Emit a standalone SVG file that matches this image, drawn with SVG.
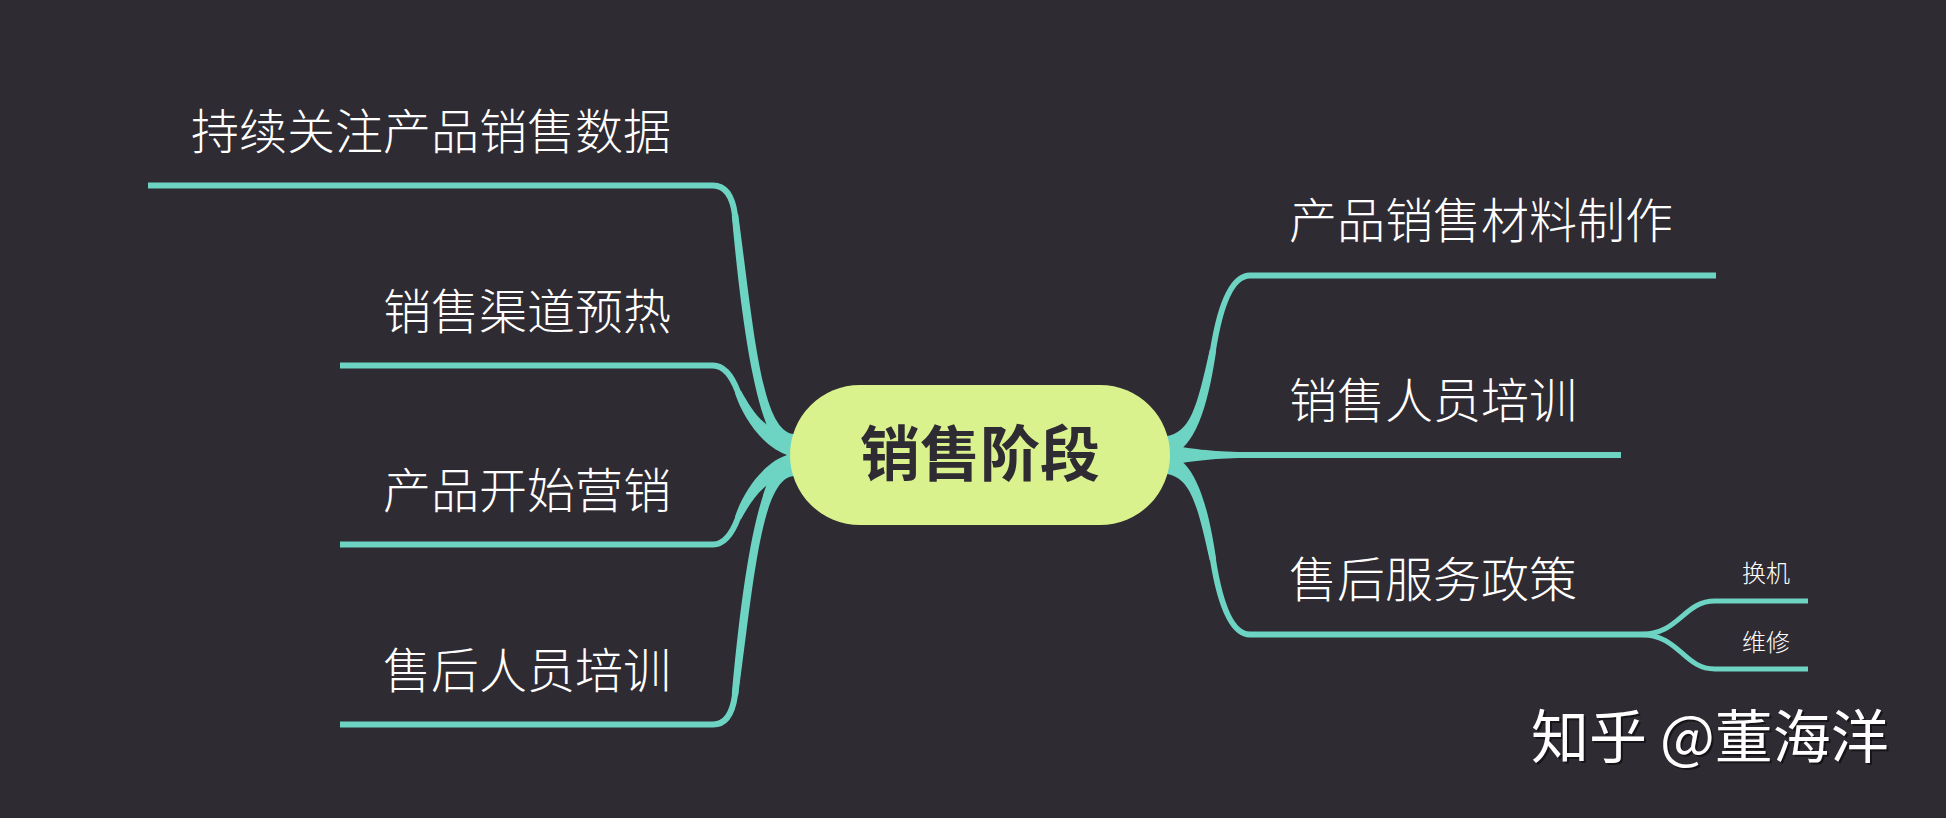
<svg xmlns="http://www.w3.org/2000/svg" width="1946" height="818" viewBox="0 0 1946 818">
<style>
.bg{fill:#2f2b33}
.ln{fill:none;stroke:#6dd3c2;stroke-width:6;stroke-linecap:butt;stroke-linejoin:round}
.sub{fill:none;stroke:#6dd3c2;stroke-width:5;stroke-linecap:butt}
.tp{fill:#6dd3c2;stroke:none}
.t{font-family:"Noto Sans CJK SC","Noto Sans",sans-serif;font-size:48px;fill:#ffffff;font-weight:300}
.ts{font-family:"Noto Sans CJK SC","Noto Sans",sans-serif;font-size:24px;fill:#ffffff;font-weight:300}
.tc{font-family:"Noto Sans CJK SC","Noto Sans",sans-serif;font-size:60px;fill:#2f2b33;font-weight:700}
.wm{font-family:"Noto Sans CJK SC","Noto Sans",sans-serif;font-size:58px;font-weight:400}
</style>
<rect class="bg" x="0" y="0" width="1946" height="818"/>
<g id="connectors">
  <!-- left -->
  <path class="ln" d="M792 445 C760 440 748 330 735 215 Q731 185.5 713 185.5 L148 185.5"/>
  <path class="tp" d="M793.7 434.1 C761.3 431.7 753.8 329.4 738.2 214.6 L731.8 215.4 C742.2 330.6 758.7 448.3 790.3 455.9 Z"/>
  <path class="ln" d="M792 445 C765 441 748 415 738 392 Q728 365.5 713 365.5 L340 365.5"/>
  <path class="tp" d="M793.6 434.1 C766.2 432.7 753.3 412.7 741 390.7 L735 393.3 C742.7 417.3 763.8 449.3 790.4 455.9 Z"/>
  <path class="ln" d="M792 465 C765 469 748 495 738 518 Q728 544.5 713 544.5 L340 544.5"/>
  <path class="tp" d="M793.6 475.9 C766.2 477.3 753.3 497.3 741 519.3 L735 516.7 C742.7 492.7 763.8 460.7 790.4 454.1 Z"/>
  <path class="ln" d="M792 465 C760 470 748 580 735 695 Q731 724.5 713 724.5 L340 724.5"/>
  <path class="tp" d="M793.7 475.9 C761.3 478.3 753.8 580.6 738.2 695.4 L731.8 694.6 C742.2 579.4 758.7 461.7 790.3 454.1 Z"/>
  <!-- right -->
  <path class="ln" d="M1168 446 C1192 440 1202 410 1213 350 Q1225 275.5 1250 275.5 L1716 275.5"/>
  <path class="tp" d="M1165.6 436.3 C1190.1 432.5 1196.6 409 1209.8 349.4 L1216.2 350.6 C1207.4 411 1193.9 447.5 1170.4 455.7 Z"/>
  <path class="tp" d="M1166 445 C1190 448 1210 452 1245 452 L1621 452 L1621 458 L1245 458 C1210 458 1190 462 1166 465 Z"/>
  <path class="ln" d="M1168 464 C1192 470 1202 500 1213 560 Q1225 634.5 1250 634.5 L1650 634.5"/>
  <path class="tp" d="M1165.6 473.7 C1190.1 477.5 1196.6 501 1209.8 560.6 L1216.2 559.4 C1207.4 499 1193.9 462.5 1170.4 454.3 Z"/>
  <!-- sub -->
  <path class="sub" d="M1640 634.5 C1680 634.5 1683 601 1715 601 L1808 601"/>
  <path class="sub" d="M1640 634.5 C1680 634.5 1683 669 1715 669 L1808 669"/>
</g>
<g id="center">
  <rect x="790" y="385" width="380" height="140" rx="70" ry="70" fill="#d9f28e"/>
  <text class="tc" x="980" y="476" text-anchor="middle">销售阶段</text>
</g>
<g id="n-l1"><text class="t" x="671" y="148.5" text-anchor="end">持续关注产品销售数据</text></g>
<g id="n-l2"><text class="t" x="671" y="328.5" text-anchor="end">销售渠道预热</text></g>
<g id="n-l3"><text class="t" x="671" y="507.5" text-anchor="end">产品开始营销</text></g>
<g id="n-l4"><text class="t" x="671" y="687.5" text-anchor="end">售后人员培训</text></g>
<g id="n-r1"><text class="t" x="1289" y="238">产品销售材料制作</text></g>
<g id="n-r2"><text class="t" x="1289" y="417.5">销售人员培训</text></g>
<g id="n-r3"><text class="t" x="1289" y="597">售后服务政策</text></g>
<g id="n-r3a"><text class="ts" x="1742" y="582">换机</text></g>
<g id="n-r3b"><text class="ts" x="1742" y="651">维修</text></g>
<g id="watermark">
  <text class="wm" x="1533" y="760" fill="#141216" fill-opacity="0.85">知乎 @董海洋</text>
  <text class="wm" x="1531" y="758" fill="#ffffff">知乎 @董海洋</text>
</g>
</svg>
